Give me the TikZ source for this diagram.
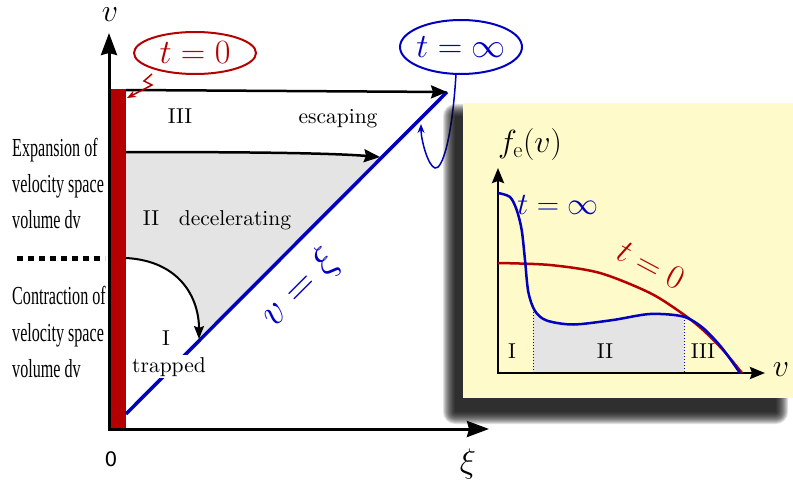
\RequirePackage{fix-cm}
\documentclass[tikz,border=0pt]{standalone}
\usepackage{fontspec}
\usepackage{graphicx}
\usetikzlibrary{arrows.meta,calc}
\newfontfamily\condfont{Liberation Serif}
\newfontfamily\zerofont{DejaVu Sans}
\definecolor{myred}{RGB}{180,0,0}
\definecolor{myblue}{RGB}{0,0,190}
\definecolor{myyellow}{RGB}{255,250,202}
\definecolor{mygray}{RGB}{228,228,228}
\newcommand\bigtxt[1]{\scalebox{2.15}{\fontsize{10}{12}\selectfont #1}}
\newcommand\condtxt[1]{\scalebox{0.62}[1]{#1}}
\begin{document}
\begin{tikzpicture}[x=1pt,y=-1pt,
  lbl/.style={anchor=base,inner sep=0pt},
  cond/.style={anchor=base west,inner sep=0pt,font=\condfont\fontsize{26}{30}\selectfont},
  bigmath/.style={inner sep=0pt,font=\fontsize{34}{38}\selectfont},
  midmath/.style={inner sep=0pt,font=\fontsize{31}{35}\selectfont},
  axisline/.style={line width=3pt,{Stealth[length=22pt,width=16pt,inset=2pt]}-{Stealth[length=22pt,width=16pt,inset=2pt]}},
  insetaxis/.style={line width=2.5pt,{Stealth[length=15pt,width=12pt,inset=2pt]}-{Stealth[length=15pt,width=12pt,inset=2pt]}},
  arr/.style={line width=2.5pt,-{Stealth[length=16pt,width=13pt,inset=2pt]}},
  callout/.style={line width=1.5pt,-{Stealth[length=9pt,width=7pt]}},
  curve/.style={line width=2.5pt},
  dotline/.style={myblue,line width=1pt,dotted}
]
\useasboundingbox (0,0) rectangle (793,487);

% ---------- main diagram ----------
\coordinate (O) at (109,429);
\coordinate (vtip) at (109,33);
\coordinate (xtip) at (489,429);
\coordinate (dstart) at (126,414);
\coordinate (dend) at (447,92);
\coordinate (a1s) at (126,90);
\coordinate (a2s) at (126,152);
\coordinate (a2e) at (380,157);
\coordinate (a3s) at (126,258);
\coordinate (a3e) at (199,339);

% gray region II
\fill[mygray] (a2s) .. controls (250,152) and (330,153) .. (a2e)
  -- (a3e) .. controls (199,298) and (180,261) .. (a3s) -- cycle;

% red bar
\fill[myred] (111,89) rectangle (126,428);

% axes
\draw[axisline] (vtip) -- (O) -- (xtip);

% diagonal v = xi
\draw[myblue,line width=3.5pt] (dstart) -- (dend);

% arrows
\draw[arr] (a1s) -- (dend);
\draw[arr] (a2s) .. controls (250,152) and (330,153) .. (a2e);
\draw[line width=2pt,-{Stealth[length=13pt,width=10pt,inset=2pt]}] (a3s) .. controls (180,261) and (199,298) .. (a3e);

% dashed separator
\coordinate (s1) at (17,258);
\coordinate (s2) at (105,258);
\draw[line width=5pt,dash pattern=on 6pt off 5pt] (s1) -- (s2);

% region labels
\node[lbl] (l3) at (180,124) {\bigtxt{III}};
\node[lbl] (esc) at (338,124) {\bigtxt{escaping}};
\node[lbl] (l2) at (151,225) {\bigtxt{II}};
\node[lbl] (dec) at (235,225) {\bigtxt{decelerating}};
\node[lbl] (l1) at (166,345) {\bigtxt{I}};
\node[lbl,fill=white,inner xsep=3pt,inner ysep=2pt] (trap) at (169,372) {\bigtxt{trapped}};

% left texts
\node[cond] (e1) at (12,156) {\condtxt{Expansion of}};
\node[cond] (e2) at (12,192) {\condtxt{velocity space}};
\node[cond] (e3) at (12,228) {\condtxt{volume dv}};
\node[cond] (c1) at (12,304) {\condtxt{Contraction of}};
\node[cond] (c2) at (12,341) {\condtxt{velocity space}};
\node[cond] (c3) at (12,377) {\condtxt{volume dv}};

% axis labels
\node[inner sep=0pt,font=\fontsize{32}{36}\selectfont] (vlab) at (110,15) {$v$};
\node[inner sep=0pt,font=\fontsize{34}{38}\selectfont] (xilab) at (468,464) {$\xi$};
\node[inner sep=0pt,font=\zerofont\fontsize{20}{24}\selectfont] (zero) at (111,459) {0};

% v = xi label
\node[inner sep=0pt,text=myblue,rotate=45,font=\fontsize{41}{46}\selectfont] (vxi) at (300,288) {$v=\xi$};

% t = 0 ellipse and callout
\node[bigmath,text=myred] (t0) at (195,53) {$t=0$};
\draw[myred,line width=2pt] (t0.center) ellipse [x radius=61, y radius=21];
\coordinate (t0b) at (152,74);
\draw[myred,callout] (t0b) -- (144,81) -- (152,85) -- (127,98);

% t = infinity ellipse and callout
\node[bigmath,text=myblue] (tinf) at (461,47) {$t=\infty$};
\draw[myblue,line width=2pt] (tinf.center) ellipse [x radius=61, y radius=27];
\coordinate (tinfb) at (456,74);
\draw[myblue,callout] (tinfb) .. controls (452,140) and (442,170) .. (435,168)
  .. controls (428,166) and (421,140) .. (421,124);

% ---------- inset ----------
\foreach \r in {0,1,...,12} {
  \fill[black,opacity=0.12,rounded corners=\r pt] ({455-\r},{116-\r}) rectangle ({776+\r},{412+\r});
}
\fill[myyellow] (463,103) rectangle (793,398);

\def\bluepts{(498,193) (510,197) (516.7,210) (521.7,230) (525,260) (528.3,292) (535,311) (546.7,320.5) (573.3,324.5) (613,320) (650,314) (683,316.5) (703,328) (722,348) (740,373)}
\begin{scope}
  \clip (533,250) rectangle (684,373);
  \fill[mygray] plot[smooth] coordinates {\bluepts} -- (740,373) -- (498,373) -- cycle;
\end{scope}

\coordinate (d1a) at (533,309);
\coordinate (d1b) at (533,373);
\coordinate (d2a) at (684,317);
\coordinate (d2b) at (684,373);
\draw[dotline] (d1a) -- (d1b);
\draw[dotline] (d2a) -- (d2b);

\coordinate (IO) at (498,373);
\draw[insetaxis] (498,168) -- (IO) -- (765,373);

\draw[myred,curve] plot[smooth] coordinates {(498,263) (550,265) (600,273) (650,293) (683,314) (703,330) (723,350) (742,373)};
\draw[myblue,curve] plot[smooth] coordinates {\bluepts};

\node[inner sep=0pt,font=\fontsize{32}{36}\selectfont] (fe) at (530,145) {$f_{\mathrm{e}}(v)$};
\node[inner sep=0pt,font=\fontsize{32}{36}\selectfont] (vin) at (781,370) {$v$};
\node[midmath,text=myblue] (tinf2) at (558,205) {$t=\infty$};
\node[inner sep=0pt,font=\fontsize{34}{38}\selectfont,text=myred,rotate=-28] (t02) at (651,265) {$t=0$};
\node[lbl] (i1) at (512,358) {\bigtxt{I}};
\node[lbl] (i2) at (605,358) {\bigtxt{II}};
\node[lbl] (i3) at (703,358) {\bigtxt{III}};
\end{tikzpicture}
\end{document}
